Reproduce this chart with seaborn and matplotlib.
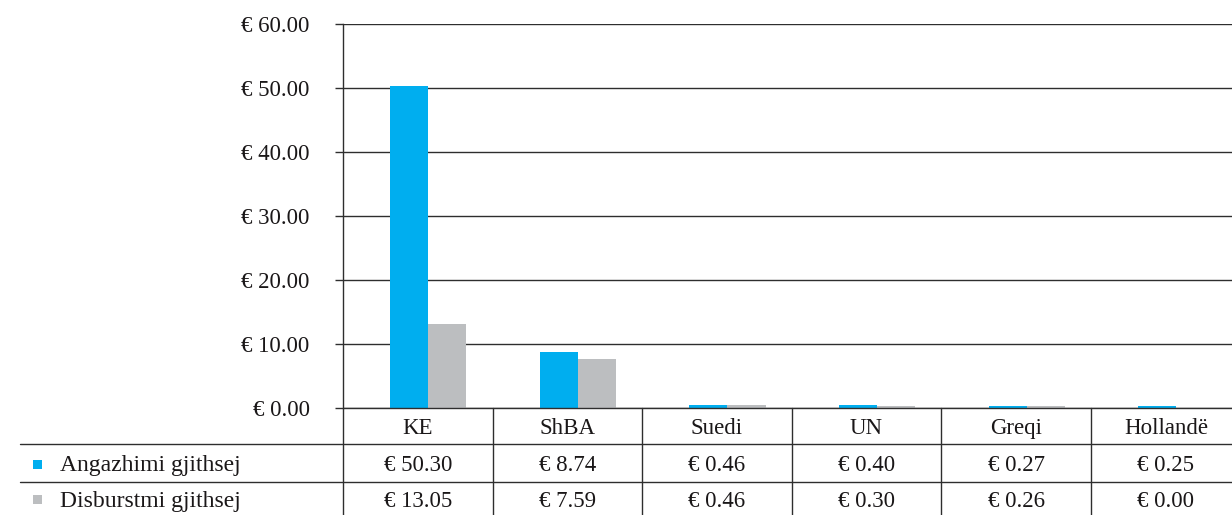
import matplotlib
matplotlib.use("Agg")
import matplotlib.pyplot as plt
import seaborn as sns
import pandas as pd
from matplotlib.patches import Rectangle

categories = ["KE", "ShBA", "Suedi", "UN", "Greqi", "Hollandë"]
angazhimi = [50.30, 8.74, 0.46, 0.40, 0.27, 0.25]
disbursimi = [13.05, 7.59, 0.46, 0.30, 0.26, 0.00]
series_names = ["Angazhimi gjithsej", "Disburstmi gjithsej"]
colors = ["#00AEEF", "#BCBEC0"]
yticks = [0, 10, 20, 30, 40, 50, 60]

sns.set_theme(style="white")
plt.rcParams["font.family"] = ["Liberation Serif", "DejaVu Serif"]
TXT = "#1a1718"
LINE = "#2e2e2e"
FS = 16.5

W, H = 1232, 515
fig = plt.figure(figsize=(W / 100, H / 100), dpi=100)

# pixel layout
ax_l, ax_r, ax_t, ax_b = 343, 1232, 24, 408
colw = 149.6
shift = 0.07

ax = fig.add_axes([ax_l / W, (H - ax_b) / H, (ax_r - ax_l) / W, (ax_b - ax_t) / H])

df = pd.DataFrame({
    "cat": categories * 2,
    "val": angazhimi + disbursimi,
    "series": [series_names[0]] * len(categories) + [series_names[1]] * len(categories),
})
sns.barplot(data=df, x="cat", y="val", hue="series", palette=colors, width=0.51,
            ax=ax, legend=False, saturation=1, linewidth=0, gap=0)

xr = (ax_r - ax_l) / colw - 0.5
ax.set_xlim(-0.5 - shift, xr - shift)
ax.set_ylim(0, 60)
ax.set_yticks(yticks)
ax.set_yticklabels([f"€ {v:.2f}" for v in yticks], fontsize=FS, color=TXT)
ax.set_xticks([])
ax.set_xlabel("")
ax.set_ylabel("")
ax.yaxis.grid(True, color=LINE, linewidth=1.0)
ax.set_axisbelow(True)
ax.tick_params(axis="y", which="both", left=True, length=6, width=1.0, color=LINE, pad=18)
for s in ["top", "right", "bottom"]:
    ax.spines[s].set_visible(False)
ax.spines["left"].set_color(LINE)
ax.spines["left"].set_linewidth(1.0)
ax.axhline(0, color=LINE, linewidth=1.0, zorder=5, clip_on=False)

# data table in pixel coordinates
tab = fig.add_axes([0, 0, 1, (H - ax_b) / H])
tab.set_xlim(0, W)
tab.set_ylim(H, ax_b)
tab.axis("off")

row1_top, row2_top = 444, 482
for yline in [row1_top, row2_top]:
    tab.plot([20, W], [yline, yline], color=LINE, linewidth=1.0, clip_on=False)
tab.plot([ax_l, ax_l], [ax_b, H], color=LINE, linewidth=1.0, clip_on=False)
for i in range(1, len(categories)):
    xb = ax_l + i * colw
    tab.plot([xb, xb], [ax_b, H], color=LINE, linewidth=1.0, clip_on=False)

fmt = lambda v: f"€ {v:.2f}"
dy = 3
for i, c in enumerate(categories):
    xc = ax_l + (i + 0.5) * colw
    tab.text(xc, (ax_b + row1_top) / 2 + dy, c, ha="center", va="center", fontsize=FS, color=TXT)
    tab.text(xc, (row1_top + row2_top) / 2 + dy, fmt(angazhimi[i]), ha="center", va="center", fontsize=FS, color=TXT)
    tab.text(xc, (row2_top + H) / 2 + dy, fmt(disbursimi[i]), ha="center", va="center", fontsize=FS, color=TXT)

for k, (name, col) in enumerate(zip(series_names, colors)):
    yc = (row1_top + row2_top) / 2 if k == 0 else (row2_top + H) / 2
    tab.add_patch(Rectangle((33, yc - 3), 9, 9, facecolor=col, edgecolor="none"))
    tab.text(60, yc + dy, name, ha="left", va="center", fontsize=FS + 0.5, color=TXT)

fig.savefig("out.png", dpi=100)
